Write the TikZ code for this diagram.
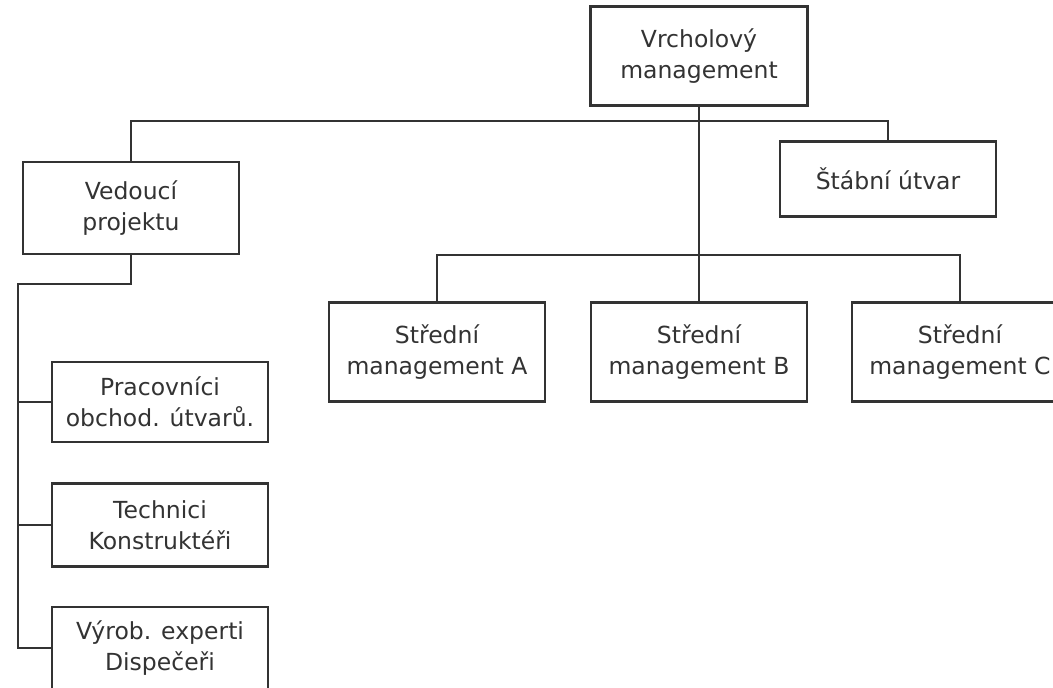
\documentclass[tikz,border=0pt]{standalone}
\usepackage{fontspec}
\setmainfont{DejaVu Sans}
\begin{document}
\begin{tikzpicture}[x=1pt,y=-1pt,
  box/.style={draw=black!80, line width=2.3pt, rectangle, align=center, inner sep=0pt,
    font=\fontsize{23.5}{31}\selectfont, text=black!80},
  conn/.style={draw=black!80, line width=2.3pt}]
\useasboundingbox[fill=white] (0,0) rectangle (1053,688);
\node[box, minimum width=217pt, minimum height=99pt] (top) at (699,56) {Vrcholový\\management};
\node[box, minimum width=216pt, minimum height=92pt] (ved) at (131,208) {Vedoucí\\projektu};
\node[box, minimum width=216pt, minimum height=75pt] (stab) at (888,179) {Štábní útvar};
\node[box, minimum width=216pt, minimum height=99pt] (A) at (437,352) {Střední\\management A};
\node[box, minimum width=216pt, minimum height=99pt] (B) at (699,352) {Střední\\management B};
\node[box, minimum width=216pt, minimum height=99pt] (C) at (960,352) {Střední\\management C};
\node[box, minimum width=216pt, minimum height=80pt] (p1) at (160,402) {Pracovníci\\obchod. útvarů.};
\node[box, minimum width=216pt, minimum height=83pt] (p2) at (160,525) {Technici\\Konstruktéři};
\node[box, minimum width=216pt, minimum height=82pt] (p3) at (160,648) {Výrob. experti\\Dispečeři};
\coordinate (l1) at (0,121);
\coordinate (l2) at (0,255);
\coordinate (l3) at (18,284);
\draw[conn] (top.south) -- (B.north);
\draw[conn] (ved.north) -- (ved.north |- l1) -- (stab.north |- l1) -- (stab.north);
\draw[conn] (A.north) -- (A.north |- l2) -- (C.north |- l2) -- (C.north);
\draw[conn] (ved.south) -- (ved.south |- l3) -- (l3) -- (l3 |- p3.west) -- (p3.west);
\draw[conn] (l3 |- p1.west) -- (p1.west);
\draw[conn] (l3 |- p2.west) -- (p2.west);
\end{tikzpicture}
\end{document}
